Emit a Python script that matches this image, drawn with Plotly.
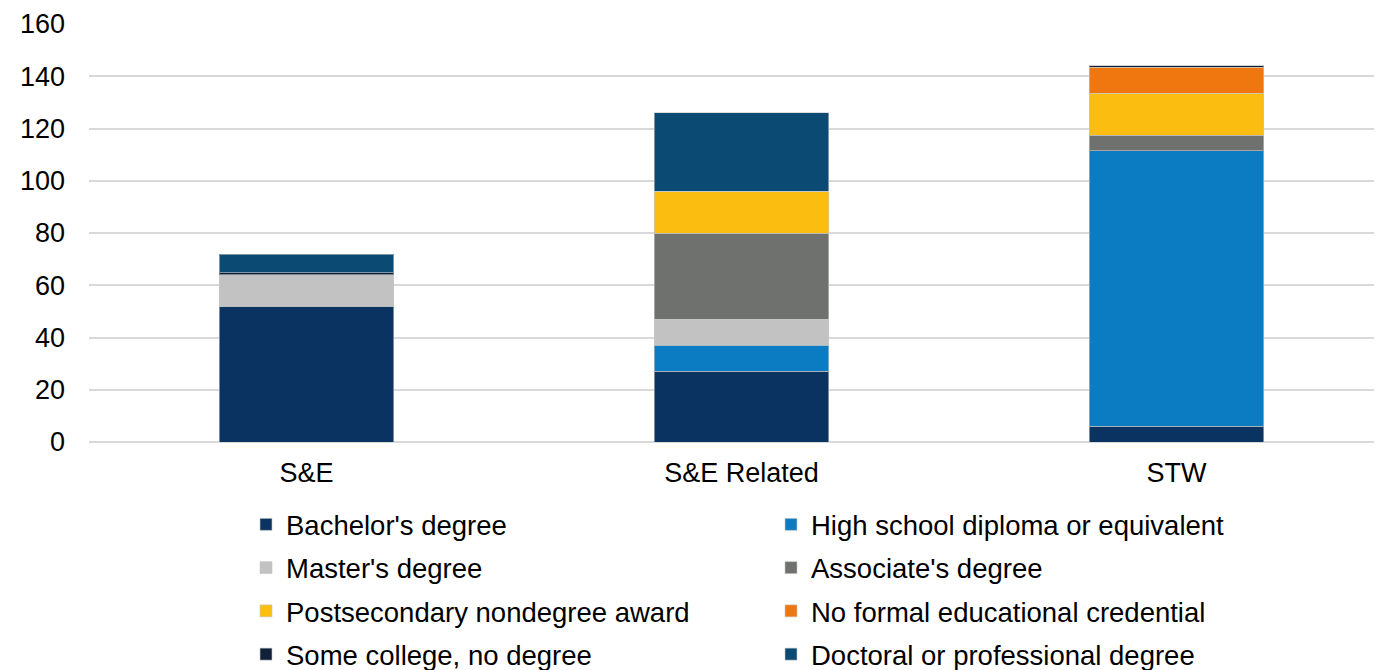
import plotly.graph_objects as go

categories = ["S&E", "S&E Related", "STW"]
series_names = [
    "Bachelor's degree",
    "High school diploma or equivalent",
    "Master's degree",
    "Associate's degree",
    "Postsecondary nondegree award",
    "No formal educational credential",
    "Some college, no degree",
    "Doctoral or professional degree",
]
bachelors = [52, 27, 6]
high_school = [0, 10, 105.5]
masters = [12, 10, 0]
associates = [0, 33, 6]
postsecondary = [0, 16, 16]
no_formal = [0, 0, 10]
some_college = [0.8, 0, 0.5]
doctoral = [7, 30, 0]

values = [bachelors, high_school, masters, associates, postsecondary, no_formal, some_college, doctoral]
colors = ["#0a3362", "#0b7cc1", "#c2c2c2", "#6f716e", "#fbbd10", "#f0760f", "#0f2038", "#0b4a72"]
legend_ids = ["legend", "legend2", "legend", "legend2", "legend", "legend2", "legend", "legend2"]

OFF = 8  # default html body margin
FIG_W, FIG_H = 1382, 670
L, R, T, B = 89 - OFF, 0, 24 - OFF, FIG_H - (442 - OFF)
PW = FIG_W - L - R

fig = go.Figure()
for name, vals, col, lg in zip(series_names, values, colors, legend_ids):
    fig.add_trace(go.Bar(
        x=categories, y=vals, name=name,
        marker=dict(color=col, line=dict(color="rgba(200,200,200,0.6)", width=1)),
        width=0.402, legend=lg, legendgroup=name,
    ))

def cx(p):
    return (p - OFF) / FIG_W

def cy(p):
    return 1 - (p - OFF) / FIG_H

tick_font = dict(family="Liberation Sans, Arial, sans-serif", size=27, color="#000000")
leg_font = dict(family="Liberation Sans, Arial, sans-serif", size=27.5, color="#000000")
legend_common = dict(
    orientation="v", xanchor="left", yanchor="top", font=leg_font,
    xref="container", yref="container",
    bgcolor="rgba(0,0,0,0)", tracegroupgap=4.5, itemwidth=30,
)
fig.update_layout(
    width=FIG_W, height=FIG_H,
    margin=dict(l=L, r=R, t=T, b=B, autoexpand=False),
    barmode="stack",
    plot_bgcolor="white", paper_bgcolor="white",
    font=tick_font,
    showlegend=True,
    legend=dict(x=cx(246), y=cy(500), **legend_common),
    legend2=dict(x=cx(771), y=cy(500), **legend_common),
    xaxis=dict(range=[-0.5, -0.5 + PW / 435.0], showgrid=False, showline=False,
               ticks="", tickfont=tick_font, ticklabelstandoff=12, fixedrange=True),
    yaxis=dict(range=[0, 160], dtick=20, showgrid=True, gridcolor="#d9d9d9", gridwidth=2,
               zeroline=True, zerolinecolor="#d9d9d9", zerolinewidth=2,
               ticks="", tickfont=tick_font, ticklabelstandoff=23),
)
fig.write_html("out.html")
